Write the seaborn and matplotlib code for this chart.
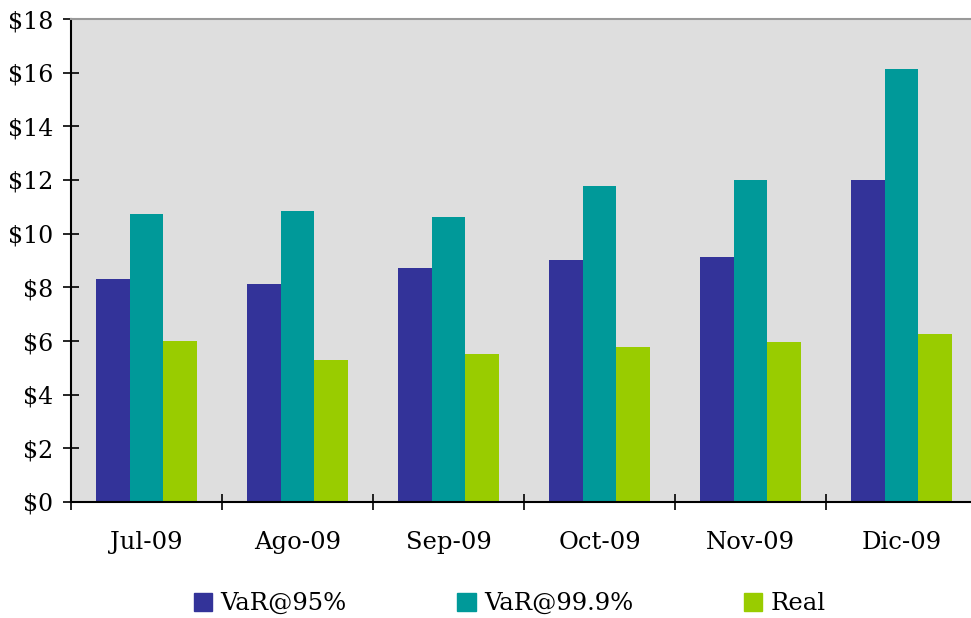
import pandas as pd
import matplotlib
matplotlib.use("Agg")
import matplotlib.pyplot as plt
import seaborn as sns
from matplotlib.ticker import FixedLocator, FuncFormatter

# data
months = ["Jul-09", "Ago-09", "Sep-09", "Oct-09", "Nov-09", "Dic-09"]
var95 = [8.3, 8.13, 8.72, 9.02, 9.13, 12.0]
var999 = [10.73, 10.85, 10.62, 11.78, 12.0, 16.14]
real = [6.0, 5.29, 5.52, 5.78, 5.96, 6.26]
series = ["VaR@95%", "VaR@99.9%", "Real"]
colors = ["#333399", "#009999", "#99cc00"]

# long format for seaborn
df = pd.DataFrame({
    "mes": months * 3,
    "valor": var95 + var999 + real,
    "serie": [s for s in series for _ in months],
})

sns.set_style("white")
plt.rcParams["font.family"] = ["DejaVu Serif"]
plt.rcParams["text.color"] = "black"
plt.rcParams["xtick.color"] = "black"
plt.rcParams["ytick.color"] = "black"

fig = plt.figure(figsize=(9.71, 6.18), dpi=100)
ax = fig.add_axes([71 / 971, 116 / 618, 906 / 971, 483 / 618])
ax.set_facecolor("#dedede")

sns.barplot(data=df, x="mes", y="valor", hue="serie", palette=colors,
            width=0.67, linewidth=0, saturation=1, ax=ax, legend=False)

ax.set_xlim(-0.5, 5.5)
ax.set_ylim(0, 18)
ax.set_xlabel("")
ax.set_ylabel("")

# y axis
ax.set_yticks(range(0, 19, 2))
ax.yaxis.set_major_formatter(FuncFormatter(lambda v, p: "$%d" % v))
ax.tick_params(axis="y", direction="inout", length=12, width=1.2,
               pad=7, labelsize=17, left=True, colors="black")

# x axis: ticks at group borders, labels in the middle
ax.xaxis.set_major_locator(FixedLocator([i - 0.5 for i in range(7)]))
ax.xaxis.set_major_formatter(FuncFormatter(lambda v, p: ""))
ax.xaxis.set_minor_locator(FixedLocator(range(6)))
ax.xaxis.set_minor_formatter(FuncFormatter(lambda v, p: months[int(round(v))]))
ax.tick_params(axis="x", which="major", direction="inout", length=12,
               width=1.2, bottom=True, colors="black")
ax.tick_params(axis="x", which="minor", length=0, pad=21, labelsize=17.5,
               colors="black")

for s in ["left", "bottom"]:
    ax.spines[s].set_color("black")
    ax.spines[s].set_linewidth(1.5)
ax.spines["top"].set_color("#999999")
ax.spines["top"].set_linewidth(1.5)
ax.spines["right"].set_visible(False)

# legend at the bottom
handles = [plt.Rectangle((0, 0), 1, 1, color=c) for c in colors]
fig.legend(handles, series, loc="center", bbox_to_anchor=(0.525, 0.023),
           ncol=3, frameon=False, fontsize=17.5, handlelength=0.75,
           handleheight=0.75, handletextpad=0.35, columnspacing=4.55)

fig.savefig("out.png", dpi=100)
